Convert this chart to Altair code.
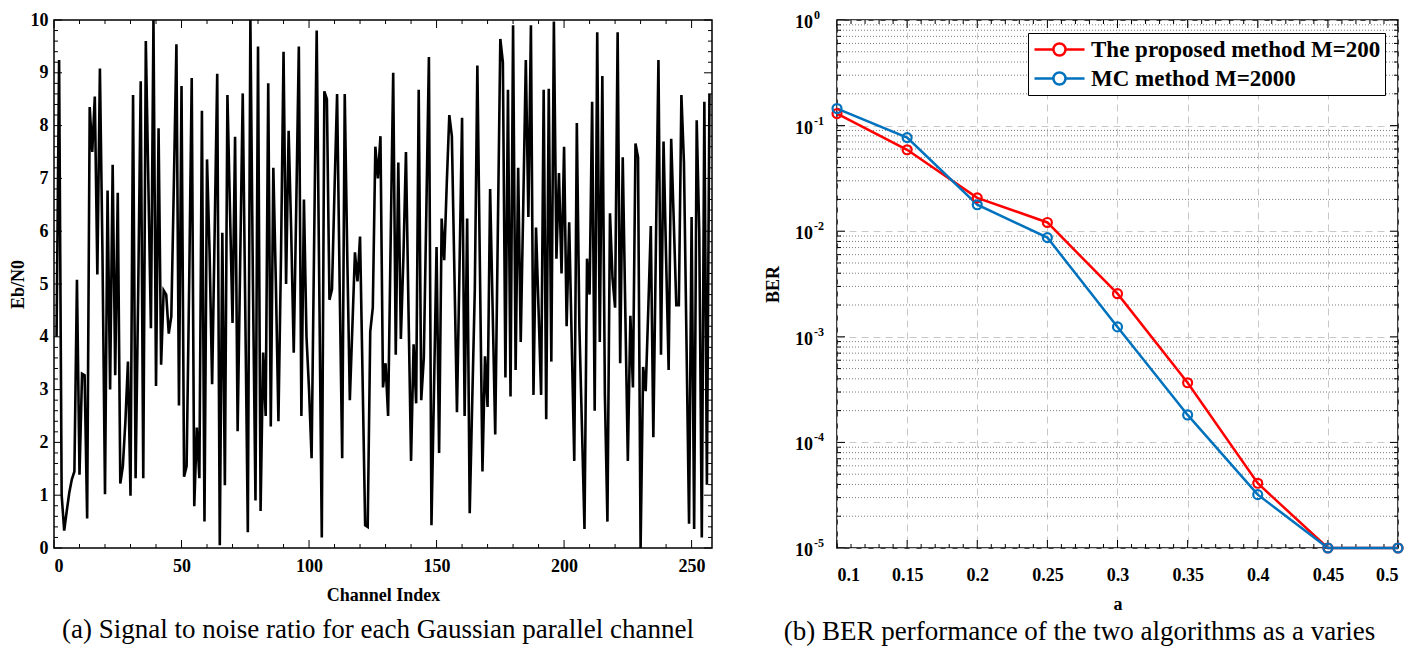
import altair as alt
import pandas as pd

# ---------------- data: panel (a) ----------------
snr_values = [
    4.0, 9.24, 1.0, 0.33, 0.7, 1.05, 1.3, 1.45, 5.08, 1.39,
    3.3, 3.27, 0.56, 8.35, 7.5, 8.55, 5.18, 9.08, 5.6, 1.02,
    6.77, 3.0, 7.26, 3.27, 6.73, 1.22, 1.55, 2.4, 3.53, 0.99,
    8.58, 1.32, 4.8, 8.84, 1.32, 9.6, 6.9, 4.16, 10.0, 3.07,
    7.95, 3.47, 4.88, 4.8, 4.06, 4.39, 6.9, 9.54, 2.7, 8.75,
    1.35, 1.55, 5.0, 8.9, 0.79, 2.28, 1.32, 8.28, 0.5, 7.36,
    5.6, 3.1, 6.0, 8.98, 0.05, 5.97, 1.19, 8.58, 6.4, 4.26,
    7.79, 2.21, 5.4, 8.61, 4.5, 0.3, 10.0, 5.0, 0.9, 9.5, 0.7,
    3.7, 2.5, 8.8, 2.3, 7.2, 5.0, 2.4, 5.5, 9.4, 5.0,
    7.9, 6.0, 3.7, 6.5, 9.5, 2.5, 6.6, 4.0, 3.0, 1.7,
    5.8, 9.8, 5.0, 0.2, 8.65, 8.5, 4.7, 4.9, 6.8, 8.6,
    5.0, 1.7, 8.6, 5.5, 2.8, 4.2, 5.6, 5.05, 5.9, 3.2, 0.43,
    0.4, 4.1, 4.55, 7.6, 7.0, 7.8, 3.04, 3.5, 2.5, 5.8,
    9.0, 3.66, 7.3, 3.96, 5.5, 7.5, 4.5, 1.65, 3.86, 2.74,
    8.68, 2.8, 3.6, 6.4, 9.3, 0.43, 3.0, 5.7, 1.8, 6.24,
    5.45, 6.9, 8.2, 7.8, 5.2, 2.57, 5.3, 8.15, 2.5, 6.24,
    0.66, 2.8, 4.9, 9.14, 5.3, 1.45, 3.63, 2.67, 6.8, 4.5, 2.15,
    5.9, 9.64, 9.2, 3.23, 8.68, 2.87, 9.9, 3.37, 7.2, 3.9,
    6.5, 9.24, 6.27, 9.9, 2.9, 6.07, 4.5, 2.9, 8.68, 2.44,
    8.7, 3.53, 9.97, 5.48, 7.1, 5.2, 7.6, 4.2, 6.17, 3.9,
    1.65, 8.05, 4.2, 2.3, 0.36, 5.48, 4.8, 8.45, 2.6, 9.77, 3.9,
    8.94, 2.9, 0.5, 6.34, 5.1, 4.55, 9.77, 3.5, 7.4, 4.5,
    1.65, 4.4, 3.04, 7.66, 7.4, 0.0, 3.43, 2.97, 4.5, 6.1,
    2.1, 5.7, 9.24, 3.66, 7.7, 5.5, 3.37, 7.75, 6.2, 4.6,
    4.6, 8.58, 7.3, 3.9, 0.46, 6.27, 0.36, 8.1, 6.0, 0.2,
    8.45, 1.2, 8.6,
]
channel_index = list(range(1, len(snr_values) + 1))

left_x_ticks = [0, 50, 100, 150, 200, 250]
left_x_minor = [10, 20, 30, 40, 60, 70, 80, 90, 110, 120, 130, 140, 160, 170,
                180, 190, 210, 220, 230, 240]
left_y_ticks = [0, 1, 2, 3, 4, 5, 6, 7, 8, 9, 10]
left_y_minor = [round(0.2 * i, 1) for i in range(51) if i % 5]

caption_a = "(a) Signal to noise ratio for each Gaussian parallel channel"

# ---------------- data: panel (b) ----------------
a_values = [0.1, 0.15, 0.2, 0.25, 0.3, 0.35, 0.4, 0.45, 0.5]
ber_proposed = [0.13, 0.059, 0.0207, 0.0121, 0.00256, 0.000367, 4.1e-5, 1e-5, 1e-5]
ber_mc = [0.145, 0.077, 0.0178, 0.0087, 0.00124, 0.000182, 3.2e-5, 1e-5, 1e-5]
series_names = ["The proposed method M=200", "MC method M=2000"]
series_colors = ["#FF0000", "#0072BD"]

right_x_ticks = [0.1, 0.15, 0.2, 0.25, 0.3, 0.35, 0.4, 0.45, 0.5]
right_x_minor = [round(0.1 + 0.01 * i, 2) for i in range(41) if i % 5]
right_y_ticks = [1e-5, 1e-4, 1e-3, 1e-2, 1e-1, 1.0]
right_y_exp = ["-5", "-4", "-3", "-2", "-1", "0"]
right_y_minor = [m * 10.0 ** e for e in range(-5, 0) for m in range(2, 10)]

caption_b = "(b) BER performance of the two algorithms as a varies"

# ---------------- layout constants ----------------
FONT = "Liberation Serif"
H = 528
W1 = 658
W2 = 561

axis_common = dict(
    labelFont=FONT, labelFontWeight="bold", labelFontSize=18, labelColor="black",
    titleFont=FONT, titleFontWeight="bold", titleFontSize=18, titleColor="black",
    ticks=False, tickSize=0, domain=False,
)

# ---------------- panel (a) ----------------
xs_a = alt.Scale(domain=[0, 258], nice=False, zero=False)
ys_a = alt.Scale(domain=[0, 10], nice=False)
xa_a = alt.Axis(values=left_x_ticks, title="Channel Index", labelPadding=9,
                titlePadding=11, grid=False, **axis_common)
ya_a = alt.Axis(values=left_y_ticks, title="Eb/N0", labelPadding=6,
                titlePadding=3, grid=False, **axis_common)


def tick_layers(xmaj, xmin, ymaj, ymin, w, h, xscale, yscale, xaxis, yaxis):
    out = []
    for vals, ln in ((xmaj, 8), (xmin, 4)):
        d = pd.DataFrame({"t": vals})
        out.append(alt.Chart(d).mark_rule(color="black", strokeWidth=1).encode(
            x=alt.X("t:Q", scale=xscale, axis=xaxis), y=alt.value(h), y2=alt.value(h - ln)))
        out.append(alt.Chart(d).mark_rule(color="black", strokeWidth=1).encode(
            x=alt.X("t:Q", scale=xscale, axis=xaxis), y=alt.value(0), y2=alt.value(ln)))
    for vals, ln in ((ymaj, 8), (ymin, 4)):
        d = pd.DataFrame({"t": vals})
        out.append(alt.Chart(d).mark_rule(color="black", strokeWidth=1).encode(
            y=alt.Y("t:Q", scale=yscale, axis=yaxis), x=alt.value(0), x2=alt.value(ln)))
        out.append(alt.Chart(d).mark_rule(color="black", strokeWidth=1).encode(
            y=alt.Y("t:Q", scale=yscale, axis=yaxis), x=alt.value(w), x2=alt.value(w - ln)))
    return out


df_a = pd.DataFrame({"ch": channel_index, "snr": snr_values})
line_a = alt.Chart(df_a).mark_line(color="black", strokeWidth=2.6).encode(
    x=alt.X("ch:Q", scale=xs_a, axis=xa_a),
    y=alt.Y("snr:Q", scale=ys_a, axis=ya_a),
)

left = alt.layer(
    line_a,
    *tick_layers(left_x_ticks, left_x_minor, left_y_ticks, left_y_minor, W1, H,
                 xs_a, ys_a, xa_a, ya_a)
).properties(
    width=W1, height=H,
    title=alt.TitleParams(text=caption_a, orient="bottom", font=FONT, fontSize=27,
                          fontWeight="normal", color="black", offset=13, dx=-5),
)

# ---------------- panel (b) ----------------
rows = []
for name, vals in zip(series_names, (ber_proposed, ber_mc)):
    for a, v in zip(a_values, vals):
        rows.append({"a": a, "ber": v, "series": name})
df_b = pd.DataFrame(rows)

xs_b = alt.Scale(domain=[0.1, 0.5], nice=False, zero=False)
ys_b = alt.Scale(type="log", domain=[1e-5, 1.0], nice=False)
xa_b = alt.Axis(values=right_x_ticks, format=".2~f", title="a", labelPadding=18,
                titlePadding=11, grid=True, gridColor="#c8c8c8", gridDash=[7, 5],
                gridWidth=1, **axis_common)
ya_b = alt.Axis(values=right_y_ticks, labels=False, title="BER", titlePadding=55,
                grid=True, gridColor="#c8c8c8", gridDash=[7, 5], gridWidth=1,
                **axis_common)

legend_symbol = ("M-0.91,0L0.81,0M1.91,0L3.64,0M1.91,0A0.55,0.55,0,1,1,0.81,0"
                 "A0.55,0.55,0,1,1,1.91,0")

minor_grid = alt.Chart(pd.DataFrame({"t": right_y_minor})).mark_rule(
    color="#7a7a7a", strokeWidth=1, strokeDash=[1, 2]
).encode(y=alt.Y("t:Q", scale=ys_b, axis=ya_b), x=alt.value(0), x2=alt.value(W2))

lines_b = alt.Chart(df_b).mark_line(
    strokeWidth=2.5,
    point=alt.OverlayMarkDef(shape="circle", filled=False, size=80, strokeWidth=2.2),
).encode(
    x=alt.X("a:Q", scale=xs_b, axis=xa_b),
    y=alt.Y("ber:Q", scale=ys_b, axis=ya_b),
    color=alt.Color("series:N", scale=alt.Scale(domain=series_names, range=series_colors),
                    legend=alt.Legend(title=None, orient="top-right", offset=13,
                                      symbolType=legend_symbol, symbolSize=484,
                                      symbolStrokeWidth=2.5, symbolFillColor="white",
                                      labelFont=FONT, labelFontWeight="bold",
                                      labelFontSize=23, labelColor="black", labelLimit=500,
                                      labelOffset=34,
                                      strokeColor="black", fillColor="white", padding=4,
                                      rowPadding=4)),
    order=alt.Order("a:Q"),
)

df_exp = pd.DataFrame({"v": right_y_ticks, "base": ["10"] * len(right_y_ticks),
                       "e": right_y_exp})
base_txt = alt.Chart(df_exp).mark_text(
    align="right", baseline="middle", font=FONT, fontWeight="bold", fontSize=18,
    color="black", dy=3
).encode(y=alt.Y("v:Q", scale=ys_b, axis=ya_b), x=alt.value(-24), text="base:N")
exp_txt = alt.Chart(df_exp).mark_text(
    align="left", baseline="middle", font=FONT, fontWeight="bold", fontSize=12,
    color="black", dy=-5
).encode(y=alt.Y("v:Q", scale=ys_b, axis=ya_b), x=alt.value(-23), text="e:N")

right = alt.layer(
    minor_grid,
    *tick_layers(right_x_ticks, right_x_minor, right_y_ticks, right_y_minor, W2, H,
                 xs_b, ys_b, xa_b, ya_b),
    lines_b, base_txt, exp_txt,
).properties(
    width=W2, height=H,
    title=alt.TitleParams(text=caption_b, orient="bottom", font=FONT, fontSize=27,
                          fontWeight="normal", color="black", offset=6, dx=-38),
)

chart = alt.hconcat(left, right, spacing=125, bounds="flush").resolve_scale(
    color="independent"
).resolve_legend(
    color="independent"
).configure_view(
    stroke="black", strokeWidth=1.5
).properties(padding={"left": 0, "top": 0, "right": 0, "bottom": 0}, background="white")

chart.save("out.html", embed_options={"renderer": "svg", "actions": False})
